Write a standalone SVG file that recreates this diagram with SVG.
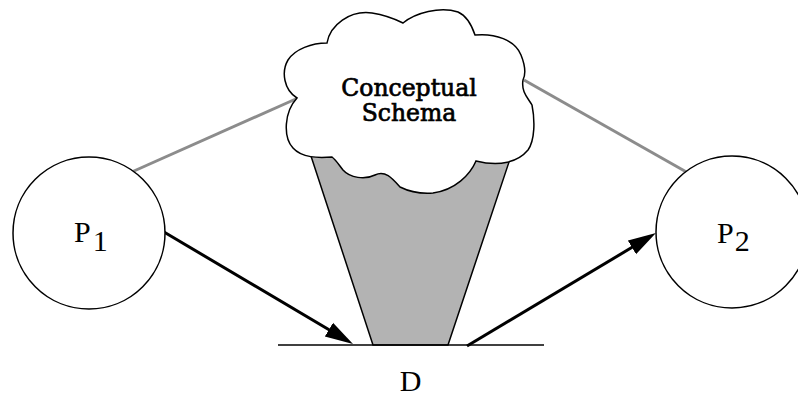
<svg xmlns="http://www.w3.org/2000/svg" width="798" height="420" viewBox="0 0 798 420">
<style>
.node{fill:#fff;stroke:#000;stroke-width:1.5}
.lbl{font-family:'Liberation Serif','Times New Roman',serif;font-size:30px;fill:#000}
.cs{font-family:'DejaVu Serif',serif;font-size:23.5px;fill:#000;stroke:#000;stroke-width:0.7;text-anchor:middle}
.gray{stroke:#8c8c8c;stroke-width:3;fill:none}
.arr{stroke:#000;stroke-width:3;fill:none;marker-end:url(#ah)}
</style>
<defs>
<marker id="ah" markerUnits="userSpaceOnUse" viewBox="0 -9 28 18" refX="8" refY="0" markerWidth="28" markerHeight="18" orient="auto">
<path d="M0,-8 L28,0 L0,8 z" fill="#000"/>
</marker>
</defs>
<g id="connectors">
<line class="gray" x1="125" y1="175" x2="298" y2="98"/>
<line class="gray" x1="524" y1="80" x2="697" y2="178"/>
<line class="arr" x1="164" y1="232" x2="335.8" y2="333.8"/>
<line class="arr" x1="467" y1="346" x2="638.8" y2="243.3"/>
</g>
<g id="D">
<polygon points="309,150 513,150 448,345 373,345" fill="#b3b3b3" stroke="#000" stroke-width="1.5"/>
<line x1="278" y1="345" x2="544" y2="345" stroke="#000" stroke-width="1.5"/>
<text class="lbl" x="410.5" y="391" text-anchor="middle" font-family="Liberation Serif, serif">D</text>
</g>
<g id="schema">
<path class="node" stroke-width="1.2" d="M297,98 C284,90 281,72 288,60 C295,49 312,43 327,43 C330,25 350,10 372,13 C385,15 395,19 403,23 C415,13 440,6 458,12 C467,16 472,26 475,35 C495,33 515,40 521,55 C525,65 526,74 523,80 C521,92 528,98 532,105 C535,120 535,140 528,150 C518,162 500,167 476,161 C470,175 455,190 433,193 C420,194 408,191 400,187 C392,178 385,170 375,175 C365,180 350,178 343,170 C339,165 336,160 332,157 C318,158 302,158 293,148 C283,137 284,112 297,98 Z"/>
<text class="cs" x="409" y="96">Conceptual</text>
<text class="cs" x="409" y="121">Schema</text>
</g>
<g id="P1">
<circle class="node" cx="89" cy="233" r="76"/>
<text class="lbl" x="74" y="242" font-family="Liberation Serif, serif">P<tspan dx="2" dy="9">1</tspan></text>
</g>
<g id="P2">
<circle class="node" cx="732" cy="232" r="76"/>
<text class="lbl" x="717" y="243" font-family="Liberation Serif, serif">P<tspan dx="1" dy="8">2</tspan></text>
</g>
</svg>
